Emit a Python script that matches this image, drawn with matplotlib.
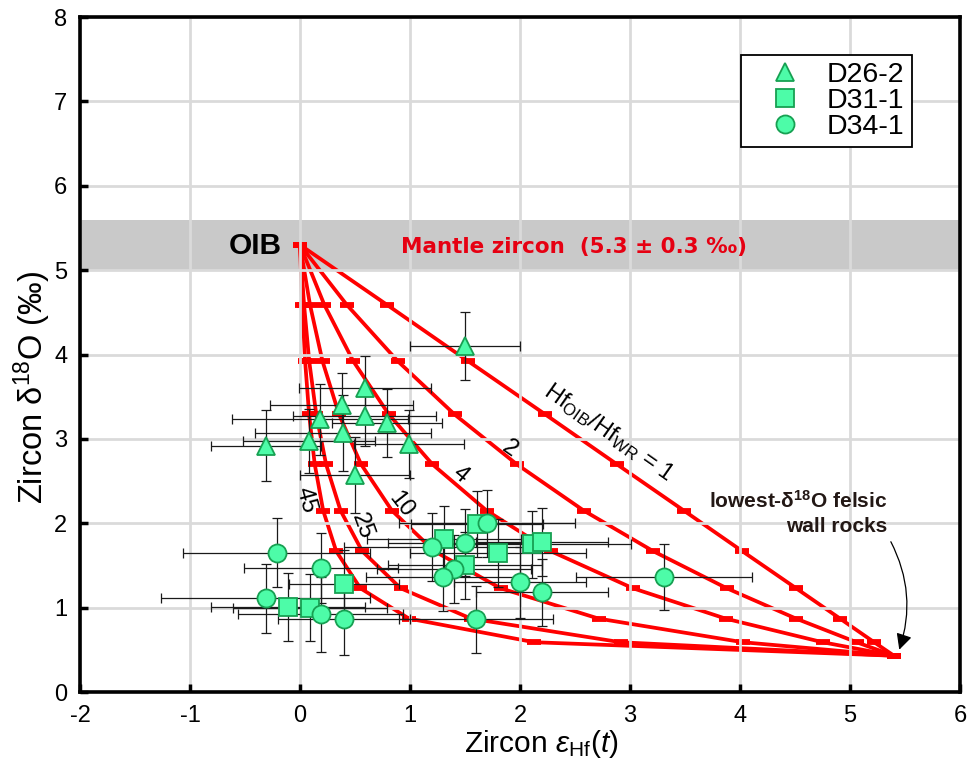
import matplotlib
matplotlib.use("Agg")
import matplotlib.pyplot as plt

plt.rcParams["font.family"] = ["Liberation Sans", "DejaVu Sans"]
plt.rcParams["mathtext.fontset"] = "custom"
plt.rcParams["mathtext.rm"] = "Liberation Sans"
plt.rcParams["mathtext.it"] = "Liberation Sans:italic"
plt.rcParams["mathtext.bf"] = "Liberation Sans:bold"
plt.rcParams["axes.unicode_minus"] = False

# mixing curves: OIB zircon (0, 5.3) -> lowest-d18O felsic wall rock (5.4, 0.43)
mix_y = [5.30, 4.59, 3.92, 3.29, 2.70, 2.15, 1.67, 1.23, 0.87, 0.59, 0.43]
mix_x = {
    1: [0.0, 0.79, 1.53, 2.23, 2.88, 3.49, 4.02, 4.51, 4.91, 5.22, 5.40],
    2: [0.0, 0.425, 0.89, 1.405, 1.97, 2.58, 3.21, 3.88, 4.51, 5.06, 5.40],
    4: [0.0, 0.221, 0.485, 0.808, 1.203, 1.697, 2.279, 3.026, 3.869, 4.751, 5.40],
    10: [0.0, 0.091, 0.205, 0.355, 0.555, 0.836, 1.221, 1.823, 2.715, 4.026, 5.40],
    25: [0.0, 0.037, 0.084, 0.148, 0.237, 0.369, 0.565, 0.915, 1.555, 2.914, 5.40],
    45: [0.0, 0.020, 0.047, 0.083, 0.134, 0.211, 0.329, 0.549, 0.991, 2.130, 5.40],
}

# D26-2 (triangles)
d26_x = [1.50, 0.59, 0.38, 0.18, 0.59, 0.79, 0.39, -0.31, 0.08, 0.99, 0.50]
d26_y = [4.10, 3.60, 3.40, 3.23, 3.27, 3.19, 3.07, 2.92, 2.97, 2.94, 2.57]
d26_xerr = [0.50, 0.60, 0.65, 0.80, 0.65, 0.50, 0.80, 0.50, 0.60, 0.50, 0.50]
d26_yerr = [0.40, 0.38, 0.38, 0.42, 0.35, 0.40, 0.45, 0.42, 0.38, 0.40, 0.45]

# D31-1 (squares)
d31_x = [1.31, 1.61, 1.80, 2.11, 2.20, 1.50, 0.40, -0.11, 0.09]
d31_y = [1.81, 1.99, 1.65, 1.75, 1.78, 1.50, 1.28, 1.01, 1.00]
d31_xerr = [0.70, 0.60, 0.80, 0.90, 0.60, 0.70, 0.50, 0.70, 0.70]
d31_yerr = [0.40, 0.39, 0.40, 0.40, 0.40, 0.40, 0.40, 0.40, 0.40]

# D34-1 (circles)
d34_x = [-0.21, 0.19, -0.31, 0.19, 0.40, 1.20, 1.50, 1.70, 1.40, 1.30, 1.60, 2.00, 2.20, 3.31]
d34_y = [1.65, 1.47, 1.11, 0.92, 0.86, 1.72, 1.77, 2.00, 1.46, 1.36, 0.86, 1.30, 1.18, 1.36]
d34_xerr = [0.85, 0.70, 0.95, 0.75, 0.60, 0.80, 0.70, 0.80, 0.70, 0.70, 0.70, 0.60, 0.60, 0.80]
d34_yerr = [0.41, 0.42, 0.41, 0.44, 0.42, 0.40, 0.40, 0.40, 0.40, 0.40, 0.40, 0.42, 0.40, 0.39]

RED = "#ff0000"
FILL = "#4dfca8"
EDGE = "#17a052"

fig = plt.figure(figsize=(9.73, 7.66), dpi=100)
ax = fig.add_axes([0.0822, 0.0966, 0.9044, 0.8812])

ax.axhspan(5.0, 5.6, color="#c9c9c9", lw=0, zorder=0.5)
ax.grid(True, color="#dadada", lw=2.0, zorder=1)
ax.set_axisbelow(False)
for gl in ax.get_xgridlines() + ax.get_ygridlines():
    gl.set_zorder(1)

for r, xs in mix_x.items():
    ax.plot(xs, mix_y, "-", color=RED, lw=2.7, zorder=2,
            marker="_", ms=9.5, mew=4.2, mec=RED)

series = [
    (d26_x, d26_y, d26_xerr, d26_yerr, "^", "D26-2", 13.5),
    (d31_x, d31_y, d31_xerr, d31_yerr, "s", "D31-1", 12.5),
    (d34_x, d34_y, d34_xerr, d34_yerr, "o", "D34-1", 13),
]
for xs, ys, xe, ye, *_ in series:
    ax.errorbar(xs, ys, xerr=xe, yerr=ye, fmt="none", ecolor="#1a1a1a",
                elinewidth=0.9, capsize=3.8, capthick=0.9, zorder=3)
for xs, ys, xe, ye, m, lab, ms in series:
    ax.plot(xs, ys, m, ms=ms, mfc=FILL, mec=EDGE, mew=1.3, ls="none",
            label=lab, zorder=4)

ax.text(-0.17, 5.29, "OIB", fontsize=21.5, fontweight="bold", ha="right",
        va="center", zorder=5)
ax.text(0.92, 5.28, "Mantle zircon  (5.3 ± 0.3 ‰)", color="#e60012",
        fontsize=15.5, fontweight="bold", family="DejaVu Sans", ha="left",
        va="center", zorder=5)

lab_kw = dict(fontsize=17, ha="center", va="center", zorder=5)
ax.text(0.056, 2.27, "45", rotation=-75, **lab_kw)
ax.text(0.56, 1.97, "25", rotation=-70, **lab_kw)
ax.text(0.92, 2.22, "10", rotation=-52, **lab_kw)
ax.text(1.46, 2.58, "4", rotation=-40, **lab_kw)
ax.text(1.91, 2.88, "2", rotation=-35, **lab_kw)
ax.text(2.81, 3.07, r"Hf$_{\rm OIB}$/Hf$_{\rm WR}$ = 1", rotation=-35, **lab_kw)

ax.text(5.34, 2.12, "lowest-δ$^{\\bf 18}$O felsic\nwall rocks", fontsize=15,
        fontweight="bold", color="#231815", ha="right", va="center",
        multialignment="right", linespacing=1.35, zorder=5)
ax.annotate("", xy=(5.44, 0.47), xytext=(5.36, 1.81),
            arrowprops=dict(arrowstyle="-|>", connectionstyle="arc3,rad=-0.22",
                            color="black", lw=0.9, mutation_scale=24),
            zorder=5)

ax.set_xlim(-2, 6)
ax.set_ylim(0, 8)
ax.set_xticks(range(-2, 7))
ax.set_yticks(range(0, 9))
ax.tick_params(direction="in", length=5.5, width=2.5, labelsize=17, pad=9,
               top=False, right=False)
for s in ax.spines.values():
    s.set_linewidth(2.6)
    s.set_zorder(6)

ax.set_xlabel(r"Zircon $\varepsilon_{\rm Hf}(t)$", fontsize=21.5)
ax.set_ylabel("Zircon δ$^{18}$O (‰)", fontsize=23.5)
ax.xaxis.set_label_coords(0.524, -0.053)
ax.yaxis.set_label_coords(-0.031, 0.452)

leg = ax.legend(loc="upper right", bbox_to_anchor=(0.945, 0.944), fontsize=20.5,
                frameon=True, fancybox=False, framealpha=1, edgecolor="black",
                borderpad=0.25, labelspacing=0.0, handletextpad=0.2,
                handlelength=2.55, borderaxespad=0)
leg.get_frame().set_linewidth(1.3)
leg.set_zorder(7)

fig.savefig("out.png", dpi=100)
